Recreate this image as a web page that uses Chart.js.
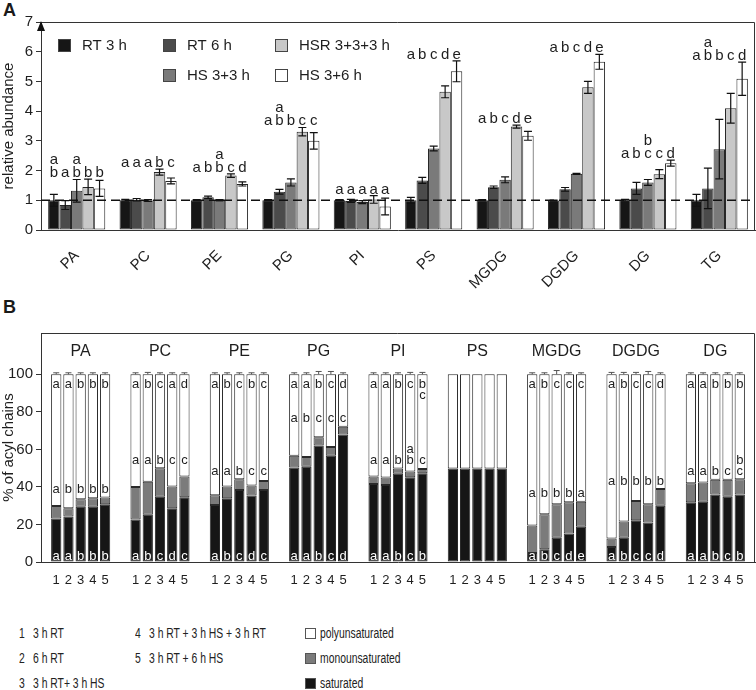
<!DOCTYPE html>
<html><head><meta charset="utf-8">
<script src="https://cdn.jsdelivr.net/npm/chart.js@4.4.1/dist/chart.umd.min.js"></script>
<style>
body{margin:0;background:#fff;width:756px;height:690px;position:relative;overflow:hidden;font-family:'Liberation Sans',Arial,sans-serif;color:#1a1a1a}
.pl{position:absolute;font-weight:bold;font-size:18px;font-family:'Liberation Sans',Arial,sans-serif}
.cv{position:absolute;left:0}
.lg{position:absolute;font-size:14px;font-family:'Liberation Sans',Arial,sans-serif;line-height:16px;white-space:nowrap;color:#222;transform:scaleX(0.74);transform-origin:0 50%}
.sq{position:absolute;width:9px;height:9px;border:1px solid #555}
</style></head><body>
<div class="pl" style="left:3px;top:0px">A</div>
<canvas id="ca" class="cv" style="top:0" width="756" height="290"></canvas>
<div class="pl" style="left:3px;top:297px">B</div>
<canvas id="cb" class="cv" style="top:290px" width="756" height="310"></canvas>
<div id="legB"></div>
<script>
// ---------------- Panel A data ----------------
const groupsA = ['PA','PC','PE','PG','PI','PS','MGDG','DGDG','DG','TG'];
const seriesA = ['RT 3 h','RT 6 h','HS 3+3 h','HSR 3+3+3 h','HS 3+6 h'];
const rt3h     = [1.00,1.00,1.00,1.00,1.00,1.00,1.00,0.99,1.00,1.00];
const rt3hErr  = [0.20,0.03,0.02,0.02,0.02,0.10,0.02,0.02,0.03,0.20];
const rt6h     = [0.84,1.02,1.10,1.29,0.98,1.67,1.44,1.37,1.40,1.40];
const rt6hErr  = [0.15,0.04,0.04,0.08,0.05,0.10,0.04,0.06,0.20,0.68];
const hs33     = [1.32,0.99,1.00,1.60,0.94,2.74,1.69,1.89,1.60,2.72];
const hs33Err  = [0.38,0.03,0.02,0.12,0.05,0.08,0.10,0.02,0.10,1.00];
const hsr333   = [1.45,1.95,1.83,3.31,1.03,4.65,3.48,4.80,1.88,4.10];
const hsr333Err= [0.26,0.10,0.06,0.14,0.13,0.20,0.05,0.20,0.15,0.50];
const hs36     = [1.40,1.65,1.55,3.00,0.79,5.34,3.17,5.66,2.25,5.09];
const hs36Err  = [0.27,0.10,0.07,0.28,0.28,0.35,0.15,0.25,0.10,0.56];
const lettersA = [
  ['a\nb','a','a\nb','b','b'],
  ['a','a','a','b','c'],
  ['a','b','a\nb','c','d'],
  ['a','a\nb','b','c','c'],
  ['a','a','a','a','a'],
  ['a','b','c','d','e'],
  ['a','b','c','d','e'],
  ['a','b','c','d','e'],
  ['a','b','b\nc','c','d'],
  ['a','a\nb','b','c','d']
];
const yTicksA = [0,1,2,3,4,5,6,7];

// ---------------- Panel B data ----------------
const groupsB = ['PA','PC','PE','PG','PI','PS','MGDG','DGDG','DG'];
const tickLabelsB = ['1','2','3','4','5'];
const condLabels = ['3 h RT','6 h RT','3 h RT+ 3 h HS','3 h RT + 3 h HS + 3 h RT','3 h RT + 6 h HS'];
const segLabels = ['saturated','monounsaturated','polyunsaturated'];
const saturated = [
  [23.2,24.3,29.5,29.5,30.7],
  [22.7,25.2,34.8,28.6,34.5],
  [30.4,33.9,38.4,35.4,38.4],
  [50.4,50.7,62.0,56.6,67.9],
  [41.6,41.0,47.0,45.2,47.3],
  [49.8,49.8,49.8,49.8,49.8],
  [4.8,6.8,12.9,15.2,18.8],
  [8.0,12.9,22.3,21.0,30.0],
  [31.8,32.1,36.0,34.8,36.0]
];
const monounsaturated = [
  [6.6,4.3,3.9,4.5,3.6],
  [17.3,17.5,15.2,11.6,11.0],
  [5.1,6.3,5.7,5.3,4.8],
  [6.2,5.2,4.4,4.7,4.1],
  [3.9,4.0,2.8,3.0,2.2],
  [0,0,0,0,0],
  [14.7,18.6,17.8,16.6,13.3],
  [4.5,8.7,10.2,9.7,8.9],
  [10.2,10.2,7.8,9.0,8.1]
];
const polyunsaturated = [
  [70.2,71.4,66.6,66.0,65.7],
  [60.0,57.3,50.0,59.8,54.5],
  [64.5,59.8,55.9,59.3,56.8],
  [43.4,44.1,33.6,38.7,28.0],
  [54.5,55.0,50.2,51.8,50.5],
  [50.2,50.2,50.2,50.2,50.2],
  [80.5,74.6,69.3,68.2,67.9],
  [87.5,78.4,67.5,69.3,61.1],
  [58.0,57.7,56.2,56.2,55.9]
];
const polyErr = [
  [0.8,0.8,0.8,0.8,0.8],
  [0.3,1.0,0.3,0.5,0.3],
  [0.3,0.3,0.3,0.3,0.3],
  [0.5,0.5,1.5,1.5,0.8],
  [0.5,0.5,0.5,1.0,1.0],
  [0,0,0,0,0],
  [0.5,0.5,2.0,0.5,0.5],
  [1.0,1.0,1.0,1.5,0.8],
  [0.3,0.3,0.3,0.3,0.3]
];
const topLetters = [
  ['a','a','b','b','b'],['a','b','c','a','d'],['a','b','c','b','c'],['a','a','b','c','d'],
  ['a','a','b','c','b\nc'],['','','','',''],['a','b','c','c','c'],['a','b','c','c','d'],['a','a','b','b','b']
];
const midLetters = [
  ['a','b','b','b','b'],['a','a','b','c','c'],['a','a','b','c','c'],['a','b','c','c','c'],
  ['a','a','b','a\nb','c'],['','','','',''],['a','b','b','b','a'],['a','b','b','b','b'],['a','a','b','c','b\nc']
];
const botLetters = [
  ['a','a','b','b','b'],['a','b','c','d','c'],['a','b','c','d','c'],['a','a','b','c','d'],
  ['a','a','b','c','b'],['','','','',''],['a','b','c','d','e'],['a','b','c','c','d'],['a','a','b','c','b']
];
const yTicksB = [0,20,40,60,80,100];

// ---------------- common ----------------
const FONT = "'Liberation Sans', Arial, sans-serif";
const INK = '#1e1e1e';
Chart.defaults.font.family = FONT;
Chart.defaults.color = INK;

// ---------------- Chart A ----------------
const valsA = [rt3h, rt6h, hs33, hsr333, hs36];
const errsA = [rt3hErr, rt6hErr, hs33Err, hsr333Err, hs36Err];
const colorsA = ['#161616','#4b4b4b','#7a7a7a','#c8c8c8','#ffffff'];

const panelAPlugin = {
  id: 'panelA',
  afterDatasetsDraw(chart) {
    const ctx = chart.ctx, ys = chart.scales.y, ca = chart.chartArea;
    ctx.save();
    ctx.strokeStyle = '#111'; ctx.lineWidth = 1.5; ctx.setLineDash([9,5]);
    const y1 = ys.getPixelForValue(1);
    ctx.beginPath(); ctx.moveTo(ca.left, y1); ctx.lineTo(ca.right, y1); ctx.stroke();
    ctx.setLineDash([]);
    ctx.strokeStyle = '#111'; ctx.lineWidth = 1.2;
    valsA.forEach((arr, i) => {
      const meta = chart.getDatasetMeta(i);
      meta.data.forEach((bar, gi) => {
        const v = arr[gi], e = errsA[i][gi];
        const yt = ys.getPixelForValue(v + e), yb = ys.getPixelForValue(v - e);
        ctx.beginPath();
        ctx.moveTo(bar.x, yt); ctx.lineTo(bar.x, yb);
        ctx.moveTo(bar.x - 4, yt); ctx.lineTo(bar.x + 4, yt);
        ctx.moveTo(bar.x - 4, yb); ctx.lineTo(bar.x + 4, yb);
        ctx.stroke();
      });
    });
    ctx.fillStyle = INK; ctx.font = '15px ' + FONT; ctx.textAlign = 'center'; ctx.textBaseline = 'alphabetic';
    groupsA.forEach((g, gi) => {
      let mx = 0;
      valsA.forEach((arr, i) => { mx = Math.max(mx, arr[gi] + errsA[i][gi]); });
      const base = ys.getPixelForValue(mx) - 2;
      valsA.forEach((arr, i) => {
        const bar = chart.getDatasetMeta(i).data[gi];
        const lines = lettersA[gi][i].split('\n');
        lines.forEach((t, k) => {
          ctx.fillText(t, bar.x, base - (lines.length - 1 - k) * 13);
        });
      });
    });
    ctx.restore();
  },
  afterDraw(chart) {
    const ctx = chart.ctx, ca = chart.chartArea;
    ctx.save();
    ctx.strokeStyle = '#333'; ctx.lineWidth = 1;
    ctx.beginPath();
    ctx.moveTo(ca.left, ca.top + 0.5); ctx.lineTo(ca.right - 0.5, ca.top + 0.5); ctx.lineTo(ca.right - 0.5, ca.bottom);
    ctx.stroke();
    ctx.fillStyle = '#111';
    ctx.beginPath();
    ctx.moveTo(ca.left, ca.top - 1); ctx.lineTo(ca.left - 4, ca.top + 9); ctx.lineTo(ca.left + 4, ca.top + 9); ctx.closePath();
    ctx.fill();
    const items = [[0,58,46],[1,163,46],[3,275,46],[2,163,76],[4,275,76]];
    ctx.font = '15px ' + FONT; ctx.textAlign = 'left'; ctx.textBaseline = 'middle';
    items.forEach(([i, x, y]) => {
      ctx.fillStyle = colorsA[i]; ctx.fillRect(x, y - 7, 13, 13);
      ctx.strokeStyle = '#444'; ctx.lineWidth = 1; ctx.strokeRect(x + 0.5, y - 6.5, 12, 12);
      ctx.fillStyle = INK; ctx.fillText(seriesA[i], x + 24, y);
    });
    ctx.restore();
  }
};

new Chart(document.getElementById('ca'), {
  type: 'bar',
  data: {
    labels: groupsA,
    datasets: seriesA.map((s, i) => ({
      label: s, data: valsA[i], backgroundColor: colorsA[i],
      borderColor: '#262626', borderWidth: 1, borderSkipped: false,
      categoryPercentage: 0.8, barPercentage: 1.0
    }))
  },
  options: {
    responsive: false, devicePixelRatio: 1, animation: false,
    layout: { padding: { top: 22, right: 1, left: 0, bottom: 0 } },
    plugins: { legend: { display: false }, tooltip: { enabled: false } },
    scales: {
      y: {
        min: 0, max: 7,
        afterBuildTicks: s => { s.ticks = yTicksA.map(v => ({ value: v })); },
        ticks: { font: { size: 15 }, color: INK, padding: 3 },
        grid: { drawOnChartArea: false, tickLength: 5, color: '#333' },
        border: { color: '#333', width: 1 },
        title: { display: true, text: 'relative abundance', font: { size: 15 }, color: INK, padding: 0 },
        afterFit: s => { s.width = 41; }
      },
      x: {
        grid: { display: false },
        border: { color: '#333', width: 1 },
        ticks: { minRotation: 45, maxRotation: 45, font: { size: 15 }, color: INK, padding: 9 },
        afterFit: s => { s.height = 60; }
      }
    }
  },
  plugins: [panelAPlugin]
});

// ---------------- Chart B ----------------
const segData = [saturated, monounsaturated, polyunsaturated];
const segColors = ['#161616','#7b7b7b','#ffffff'];
const datasetsB = [];
for (let c = 0; c < 5; c++) {
  for (let s = 0; s < 3; s++) {
    datasetsB.push({
      label: segLabels[s] + ' ' + (c + 1),
      data: groupsB.map((g, gi) => segData[s][gi][c]),
      stack: 'c' + c,
      backgroundColor: segColors[s],
      borderColor: '#2a2a2a', borderWidth: 1, borderSkipped: false,
      categoryPercentage: 0.77, barPercentage: 0.84
    });
  }
}

const panelBPlugin = {
  id: 'panelB',
  afterDatasetsDraw(chart) {
    const ctx = chart.ctx, ys = chart.scales.y, xs = chart.scales.x, ca = chart.chartArea;
    ctx.save();
    ctx.strokeStyle = '#555'; ctx.lineWidth = 1;
    for (let c = 0; c < 5; c++) {
      const meta = chart.getDatasetMeta(c * 3 + 2);
      meta.data.forEach((bar, gi) => {
        const e = polyErr[gi][c];
        if (e <= 0) return;
        const yt = Math.min(ys.getPixelForValue(100 + e), ys.getPixelForValue(100) - 1.5);
        const yb = ys.getPixelForValue(100);
        ctx.beginPath();
        ctx.moveTo(bar.x, yt); ctx.lineTo(bar.x, yb);
        ctx.moveTo(bar.x - 3, yt); ctx.lineTo(bar.x + 3, yt);
        ctx.stroke();
      });
    }
    ctx.fillStyle = INK; ctx.font = '16px ' + FONT; ctx.textAlign = 'center'; ctx.textBaseline = 'middle';
    groupsB.forEach((g, gi) => ctx.fillText(g, xs.getPixelForValue(gi), ys.getPixelForValue(112)));
    ctx.font = '13px ' + FONT;
    const yTop = ys.getPixelForValue(100) + 10;
    const yBot = ys.getPixelForValue(0) - 6;
    groupsB.forEach((g, gi) => {
      let mx = 0;
      for (let c = 0; c < 5; c++) mx = Math.max(mx, saturated[gi][c] + monounsaturated[gi][c]);
      const yMid = ys.getPixelForValue(mx) - 8;
      for (let c = 0; c < 5; c++) {
        const bx = chart.getDatasetMeta(c * 3).data[gi].x;
        ctx.fillStyle = INK;
        topLetters[gi][c].split('\n').forEach((t, k) => ctx.fillText(t, bx, yTop + k * 11));
        const ml = midLetters[gi][c].split('\n');
        ml.forEach((t, k) => ctx.fillText(t, bx, yMid - (ml.length - 1 - k) * 11));
        ctx.fillStyle = '#ffffff';
        ctx.fillText(botLetters[gi][c], bx, yBot);
      }
    });
    ctx.fillStyle = INK; ctx.font = '13px ' + FONT;
    for (let c = 0; c < 5; c++) {
      chart.getDatasetMeta(c * 3).data.forEach(bar => ctx.fillText(tickLabelsB[c], bar.x, ca.bottom + 18));
    }
    ctx.restore();
  },
  afterDraw(chart) {
    const ctx = chart.ctx, ca = chart.chartArea;
    ctx.save();
    ctx.strokeStyle = '#333'; ctx.lineWidth = 1;
    ctx.beginPath();
    ctx.moveTo(ca.left, ca.top + 0.5); ctx.lineTo(ca.right - 0.5, ca.top + 0.5); ctx.lineTo(ca.right - 0.5, ca.bottom);
    ctx.stroke();
    ctx.restore();
  }
};

new Chart(document.getElementById('cb'), {
  type: 'bar',
  data: { labels: groupsB, datasets: datasetsB },
  options: {
    responsive: false, devicePixelRatio: 1, animation: false,
    layout: { padding: { top: 43, right: 1, left: 0, bottom: 0 } },
    plugins: { legend: { display: false }, tooltip: { enabled: false } },
    scales: {
      y: {
        stacked: true, min: 0, max: 122,
        afterBuildTicks: s => { s.ticks = yTicksB.map(v => ({ value: v })); },
        ticks: { font: { size: 15 }, color: INK, padding: 3 },
        grid: { drawOnChartArea: false, tickLength: 5, color: '#333' },
        border: { color: '#333', width: 1 },
        title: { display: true, text: '% of acyl chains', font: { size: 15 }, color: INK, padding: 0 },
        afterFit: s => { s.width = 41; }
      },
      x: {
        stacked: true,
        grid: { display: false },
        border: { color: '#333', width: 1 },
        ticks: { display: false },
        afterFit: s => { s.height = 38; }
      }
    }
  },
  plugins: [panelBPlugin]
});

// ---------------- Legend B (HTML) ----------------
const legB = document.getElementById('legB');
function addText(txt, x, yc) {
  const d = document.createElement('div');
  d.className = 'lg'; d.textContent = txt;
  d.style.left = x + 'px'; d.style.top = (yc - 8) + 'px';
  legB.appendChild(d);
}
const rowY = [633, 658, 683];
condLabels.forEach((t, i) => {
  const col = i < 3 ? 0 : 1;
  const row = i < 3 ? i : i - 3;
  const nx = col === 0 ? 19 : 135;
  addText(String(i + 1), nx, rowY[row]);
  addText(t, nx + 14, rowY[row]);
});
const segOrder = [2, 1, 0];
segOrder.forEach((s, r) => {
  const sq = document.createElement('div');
  sq.className = 'sq'; sq.style.background = segColors[s];
  sq.style.left = '305px'; sq.style.top = (rowY[r] - 5) + 'px';
  legB.appendChild(sq);
  addText(segLabels[s], 320, rowY[r]);
});
</script>
</body></html>
